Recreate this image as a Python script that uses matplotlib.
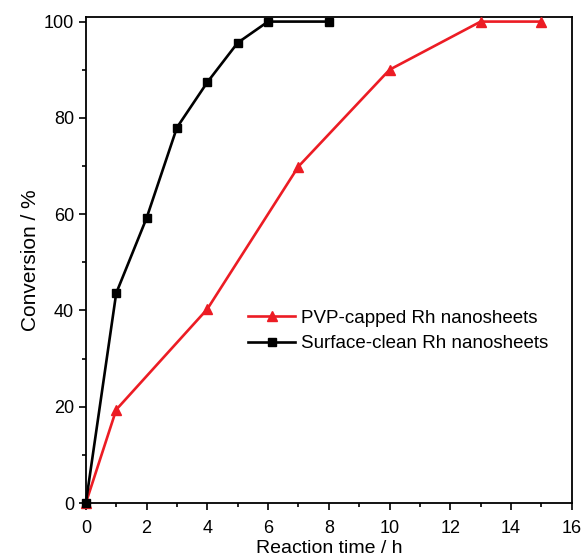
import matplotlib

matplotlib.use("Agg")
import matplotlib.pyplot as plt
from matplotlib.ticker import MultipleLocator

plt.rcParams["font.family"] = ["Liberation Sans", "DejaVu Sans"]

# reaction time (h) and conversion (%)
pvp_time = [0, 1, 4, 7, 10, 13, 15]
pvp_conv = [0, 19.4, 40.3, 69.9, 90.0, 100, 100]
clean_time = [0, 1, 2, 3, 4, 5, 6, 8]
clean_conv = [0, 43.6, 59.2, 78.0, 87.4, 95.6, 100, 100]

red = "#ec1c24"

fig = plt.figure(figsize=(5.84, 5.59), dpi=100)
ax = fig.add_axes([0.147, 0.100, 0.832, 0.870])

ax.plot(pvp_time, pvp_conv, color=red, lw=1.9, marker="^", ms=7.5,
        label="PVP-capped Rh nanosheets", clip_on=False, zorder=3)
ax.plot(clean_time, clean_conv, color="black", lw=1.9, marker="s", ms=6,
        label="Surface-clean Rh nanosheets", clip_on=False, zorder=3)

ax.set_xlim(0, 16)
ax.set_ylim(0, 101)
ax.xaxis.set_major_locator(MultipleLocator(2))
ax.xaxis.set_minor_locator(MultipleLocator(1))
ax.yaxis.set_major_locator(MultipleLocator(20))
ax.yaxis.set_minor_locator(MultipleLocator(10))
ax.tick_params(which="both", direction="out", top=False, right=False, width=1.2,
               labelsize=13)
ax.tick_params(which="major", length=5)
ax.tick_params(which="minor", length=3)
ax.tick_params(axis="x", which="major", pad=7)
for s in ax.spines.values():
    s.set_linewidth(1.3)

ax.set_xlabel("Reaction time / h", fontsize=14, labelpad=2)
ax.set_ylabel("Conversion / %", fontsize=15, labelpad=3)

ax.legend(loc="upper left", bbox_to_anchor=(0.30, 0.433), frameon=False,
          fontsize=13.5, handlelength=2.5, handletextpad=0.3, labelspacing=0.45)

fig.savefig("out.png", dpi=100)
